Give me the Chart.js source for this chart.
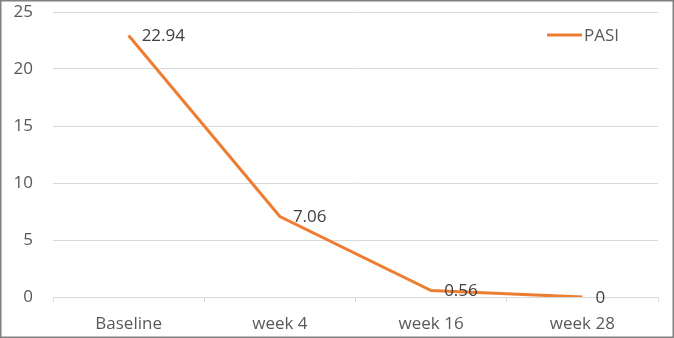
<!DOCTYPE html>
<html>
<head>
<meta charset="utf-8">
<script src="https://cdn.jsdelivr.net/npm/chart.js@4/dist/chart.umd.min.js"></script>
<style>
html,body{margin:0;padding:0;background:#fff;}
#wrap{position:relative;width:674px;height:338px;}
</style>
</head>
<body>
<div id="wrap"><canvas id="c" width="674" height="338"></canvas></div>
<script>
const categories = ["Baseline", "week 4", "week 16", "week 28"];
const pasiValues = [22.94, 7.06, 0.56, 0];
const seriesName = "PASI";
const yTicks = [0, 5, 10, 15, 20, 25];

const FONT = "'Open Sans', sans-serif";
const TEXT = "#595959";
const LINE = "#ED7D31";

const framePlugin = {
  id: 'frame',
  beforeDraw(chart) {
    const ctx = chart.ctx;
    ctx.save();
    ctx.fillStyle = '#fff';
    ctx.fillRect(0, 0, chart.width, chart.height);
    ctx.restore();
  },
  afterDraw(chart) {
    const ctx = chart.ctx;
    ctx.save();
    ctx.strokeStyle = '#808080';
    ctx.lineWidth = 1.5;
    ctx.strokeRect(0.75, 0.75, chart.width - 1.5, chart.height - 1.5);
    ctx.restore();
  }
};

const labelPlugin = {
  id: 'valueLabels',
  afterDatasetsDraw(chart) {
    const ctx = chart.ctx;
    ctx.save();
    ctx.font = "17px " + FONT;
    ctx.fillStyle = "#404040";
    ctx.textAlign = 'left';
    ctx.textBaseline = 'middle';
    chart.data.datasets.forEach((ds, di) => {
      const meta = chart.getDatasetMeta(di);
      meta.data.forEach((pt, i) => {
        ctx.fillText(String(ds.data[i]), pt.x + 13, pt.y + 1);
      });
    });
    ctx.restore();
  }
};

const legendPlugin = {
  id: 'customLegend',
  afterDraw(chart) {
    const ctx = chart.ctx;
    const ds = chart.data.datasets[0];
    const x0 = chart.chartArea.right - 111;
    const y0 = 35;
    ctx.save();
    ctx.strokeStyle = ds.borderColor;
    ctx.lineWidth = 3;
    ctx.beginPath();
    ctx.moveTo(x0, y0);
    ctx.lineTo(x0 + 35, y0);
    ctx.stroke();
    ctx.font = "17px " + FONT;
    ctx.fillStyle = TEXT;
    ctx.textAlign = 'left';
    ctx.textBaseline = 'middle';
    ctx.fillText(ds.label, x0 + 37, y0 + 1);
    ctx.restore();
  }
};

new Chart(document.getElementById('c'), {
  type: 'line',
  data: {
    labels: categories,
    datasets: [{
      label: seriesName,
      data: pasiValues,
      borderColor: LINE,
      backgroundColor: LINE,
      borderWidth: 3,
      pointRadius: 0,
      tension: 0,
      fill: false
    }]
  },
  options: {
    responsive: false,
    animation: false,
    devicePixelRatio: 1,
    layout: { padding: { left: 0, right: 16, top: 12, bottom: 0 } },
    plugins: {
      legend: { display: false },
      tooltip: { enabled: false }
    },
    scales: {
      x: {
        offset: true,
        grid: { offset: true, drawOnChartArea: false, tickLength: 5, color: '#d9d9d9', lineWidth: 1 },
        border: { color: '#d9d9d9', width: 1 },
        ticks: { color: TEXT, font: { family: FONT, size: 17 }, padding: 12, maxRotation: 0 },
        afterFit(s) { s.height = 41; s.paddingLeft = 0; s.paddingRight = 0; }
      },
      y: {
        min: 0,
        max: 25,
        afterBuildTicks(s) { s.ticks = yTicks.map(v => ({ value: v })); },
        grid: { color: '#d9d9d9', drawTicks: false, lineWidth: 1 },
        border: { display: false },
        ticks: { color: TEXT, font: { family: FONT, size: 17 }, padding: 20 },
        afterFit(s) { s.width = 53; s.paddingTop = 0; s.paddingBottom = 0; }
      }
    }
  },
  plugins: [framePlugin, labelPlugin, legendPlugin]
});
</script>
</body>
</html>
